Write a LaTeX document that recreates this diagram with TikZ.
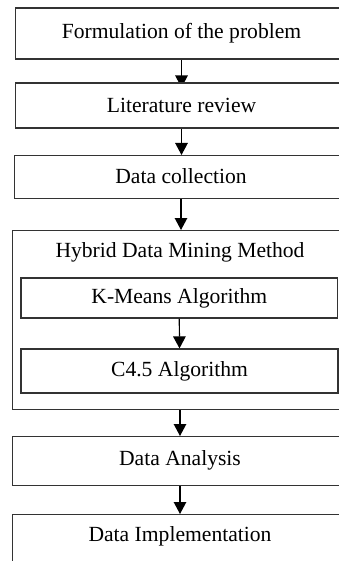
\documentclass[tikz,border=0pt]{standalone}
\usepackage{fontspec}
\setmainfont{Liberation Serif}
\usetikzlibrary{arrows.meta,backgrounds}
\begin{document}
\begin{tikzpicture}[x=1pt,y=1pt,
  boxline/.style={draw=black!80, line width=1.2pt, fill=white, rectangle, inner sep=0pt, anchor=north west, minimum width=390pt},
  box/.style={draw=black!80, line width=1.2pt, fill=white, rectangle, inner sep=0pt,
              font=\fontsize{21.6}{26}\selectfont},
  frame/.style={draw=black!80, line width=1.2pt, rectangle, inner sep=0pt, anchor=north west, minimum width=390pt},
  txt/.style={inner sep=0pt, font=\fontsize{21.6}{26}\selectfont},
  arr/.style={draw=black, line width=1.2pt, -{Triangle[width=12.5pt,length=12pt]}}]
\useasboundingbox (0,-561) rectangle (339,0);
\clip (0,-561) rectangle (339,0);
\node[boxline, minimum height=51pt] (b1) at (14.5,-7.5) {};
\node[txt] (t1) at (181.5,-33) {Formulation of the problem};
\node[boxline, minimum height=45pt] (b2) at (15,-82.5) {};
\node[txt] (t2) at (181.5,-105) {Literature review};
\node[boxline, minimum height=43pt] (b3) at (14,-155) {};
\node[txt] (t3) at (181,-176.5) {Data collection};
\node[frame, minimum height=179pt] (hyb) at (12,-230) {};
\node[txt] (hyt) at (180,-252) {Hybrid Data Mining Method};
\node[box, minimum width=316.5pt, minimum height=40pt] (km) at (179.3,-298) {K-Means Algorithm};
\node[box, minimum width=317pt, minimum height=44pt] (c45) at (179.5,-371) {C4.5 Algorithm};
\node[boxline, minimum height=49pt] (an) at (12,-436) {};
\node[txt] (tan) at (180,-460.5) {Data Analysis};
\node[boxline, minimum height=90pt] (im) at (12,-514) {};
\node[txt] (tim) at (180,-536) {Data Implementation};
\begin{pgfonlayer}{background}
\draw[arr, shorten >=-5pt] (t1 |- b1.south) -- (t1 |- b2.north);
\draw[arr] (t2 |- b2.south) -- (t2 |- b3.north);
\draw[arr] (t3 |- b3.south) -- (t3 |- hyb.north);
\draw[arr] (hyt |- hyb.south) -- (hyt |- an.north);
\draw[arr] (tan |- an.south) -- (tan |- im.north);
\end{pgfonlayer}
\draw[arr] (km.south) -- (c45.north);
\end{tikzpicture}
\end{document}
